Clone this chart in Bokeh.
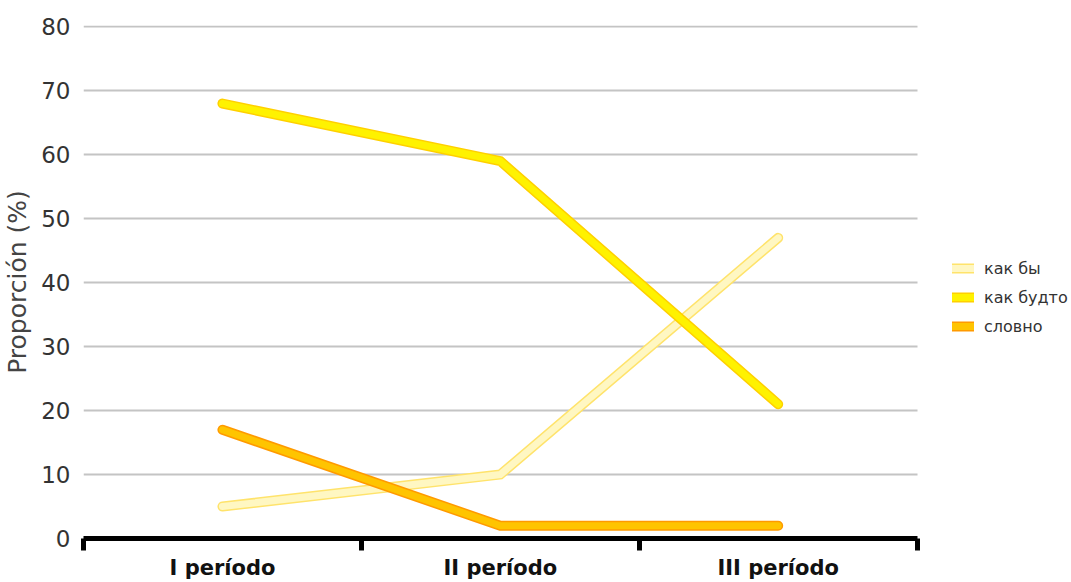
from bokeh.plotting import figure
from bokeh.models import Range1d, FixedTicker, Legend, LegendItem
from bokeh.embed import file_html
from bokeh.resources import INLINE

# Periods on the horizontal axis
periods = ["I período", "II período", "III período"]

# Share of each connective per period (%)
kak_by = [5, 10, 47]
kak_budto = [68, 59, 21]
slovno = [17, 2, 2]

series_names = ["как бы", "как будто", "словно"]
series_values = [kak_by, kak_budto, slovno]
# (edge colour, fill colour) of each ribbon line
series_colors = [("#FFE36B", "#FFF7C2"), ("#FFD000", "#FFF200"), ("#FF9A00", "#FFC400")]

y_ticks = [0, 10, 20, 30, 40, 50, 60, 70, 80]

FONT = "DejaVu Sans"
LEFT = 79
CAT_W = 279  # pixels per period
W, H = 1071, 582
n = len(periods)

# The frame runs to the right edge so the legend can sit beside the data;
# axis and grid are bounded to the period span.
p = figure(width=W, height=H, output_backend="svg", toolbar_location=None,
           x_range=Range1d(0, (W - LEFT) / CAT_W), y_range=Range1d(0, 80.2),
           min_border_left=LEFT, min_border_right=0, min_border_top=25,
           min_border_bottom=44)
p.outline_line_color = None
p.background_fill_color = "white"
p.border_fill_color = "white"

# category centres
xs = [i + 0.5 for i in range(n)]

items = []
for name, vals, (edge, fill) in zip(series_names, series_values, series_colors):
    r1 = p.line(xs, vals, line_width=10, line_color=edge, line_cap="round", line_join="miter")
    r2 = p.line(xs, vals, line_width=7, line_color=fill, line_cap="round", line_join="miter")
    items.append(LegendItem(label=name, renderers=[r1, r2]))

# x axis: labels at the centres, ticks at the category boundaries
xa = p.xaxis[0]
xa.bounds = (0, n)
xa.ticker = FixedTicker(ticks=xs, minor_ticks=list(range(n + 1)))
xa.major_label_overrides = {x: lab for x, lab in zip(xs, periods)}
xa.axis_line_color = "black"
xa.axis_line_width = 5
xa.major_tick_line_color = None
xa.major_tick_out = 0
xa.major_tick_in = 0
xa.minor_tick_line_color = "black"
xa.minor_tick_line_width = 5
xa.minor_tick_out = 12
xa.minor_tick_in = 0
xa.major_label_standoff = 5
xa.major_label_text_font = FONT
xa.major_label_text_font_style = "bold"
xa.major_label_text_font_size = "21px"
xa.major_label_text_color = "#111111"

ya = p.yaxis[0]
ya.ticker = FixedTicker(ticks=y_ticks)
ya.axis_line_color = None
ya.major_tick_line_color = None
ya.minor_tick_line_color = None
ya.major_label_standoff = 7
ya.major_label_text_font = FONT
ya.major_label_text_font_size = "23px"
ya.major_label_text_color = "#333333"
ya.axis_label = "Proporción (%)"
ya.axis_label_text_font = FONT
ya.axis_label_text_font_size = "25px"
ya.axis_label_text_font_style = "normal"
ya.axis_label_text_color = "#444444"
ya.axis_label_standoff = 6

p.xgrid.grid_line_color = None
p.ygrid.ticker = FixedTicker(ticks=y_ticks)
p.ygrid.cross_bounds = (0, n)
p.ygrid.grid_line_color = "#C4C4C4"
p.ygrid.grid_line_width = 2

legend = Legend(items=items, location=(869, 202), orientation="vertical",
                padding=0, margin=0, spacing=9, glyph_width=22, glyph_height=14,
                label_height=20, label_standoff=10,
                label_text_font=FONT, label_text_font_size="16px",
                label_text_color="#333333",
                border_line_color=None, background_fill_alpha=0)
p.add_layout(legend, "center")

open("out.html", "w").write(file_html(p, INLINE))
